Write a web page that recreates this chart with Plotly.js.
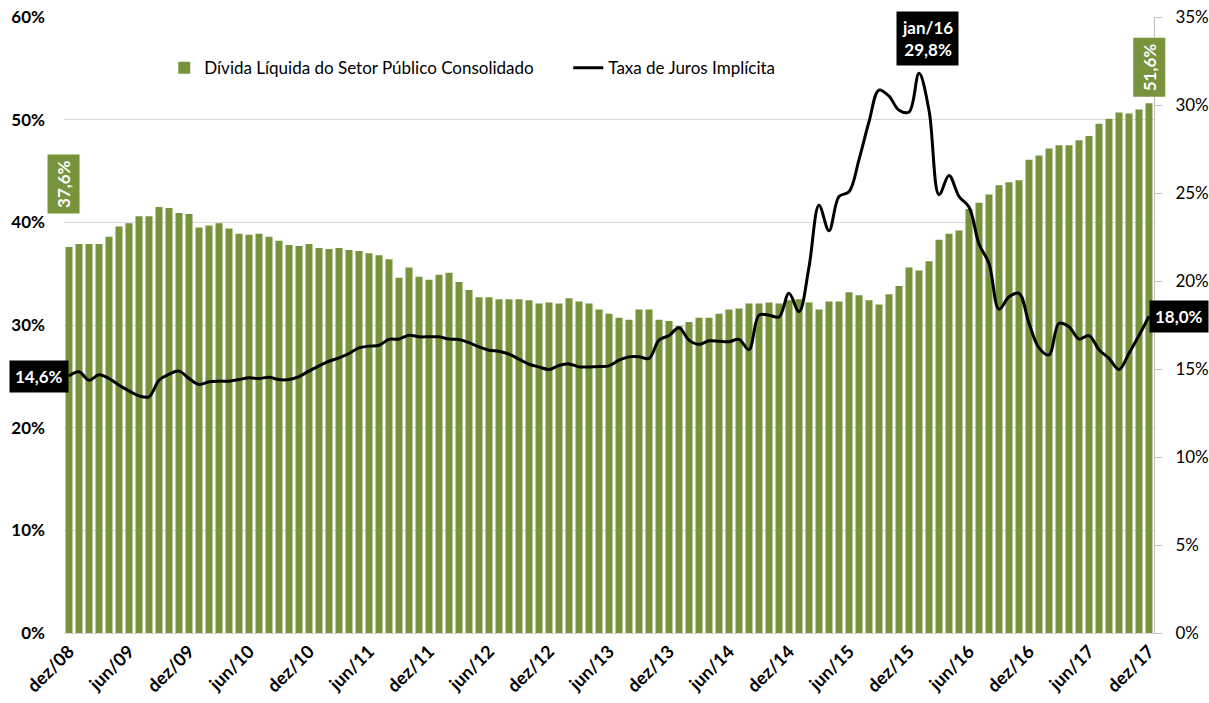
<!DOCTYPE html>
<html>
<head>
<meta charset="utf-8">
<script src="https://cdn.plot.ly/plotly-3.0.1.min.js"></script>
<style>
html,body{margin:0;padding:0;background:#fff;}
#chart{width:1209px;height:703px;}
</style>
</head>
<body>
<div id="chart"></div>
<script>
const months = [
 "dez/08",
 "jan/09","fev/09","mar/09","abr/09","mai/09","jun/09","jul/09","ago/09","set/09","out/09","nov/09","dez/09",
 "jan/10","fev/10","mar/10","abr/10","mai/10","jun/10","jul/10","ago/10","set/10","out/10","nov/10","dez/10",
 "jan/11","fev/11","mar/11","abr/11","mai/11","jun/11","jul/11","ago/11","set/11","out/11","nov/11","dez/11",
 "jan/12","fev/12","mar/12","abr/12","mai/12","jun/12","jul/12","ago/12","set/12","out/12","nov/12","dez/12",
 "jan/13","fev/13","mar/13","abr/13","mai/13","jun/13","jul/13","ago/13","set/13","out/13","nov/13","dez/13",
 "jan/14","fev/14","mar/14","abr/14","mai/14","jun/14","jul/14","ago/14","set/14","out/14","nov/14","dez/14",
 "jan/15","fev/15","mar/15","abr/15","mai/15","jun/15","jul/15","ago/15","set/15","out/15","nov/15","dez/15",
 "jan/16","fev/16","mar/16","abr/16","mai/16","jun/16","jul/16","ago/16","set/16","out/16","nov/16","dez/16",
 "jan/17","fev/17","mar/17","abr/17","mai/17","jun/17","jul/17","ago/17","set/17","out/17","nov/17","dez/17"
];

// Dívida Líquida do Setor Público Consolidado (% PIB) - eixo esquerdo
const dividaLiquida = [
 37.6, 37.9, 37.9, 37.9, 38.6, 39.6, 39.9, 40.6, 40.6, 41.5, 41.4, 40.9, 40.8,
 39.5, 39.7, 39.9, 39.4, 38.9, 38.8, 38.9, 38.6, 38.2, 37.8, 37.7, 37.9,
 37.5, 37.4, 37.5, 37.3, 37.2, 37.0, 36.8, 36.4, 34.6, 35.6, 34.7, 34.4,
 34.9, 35.1, 34.2, 33.4, 32.7, 32.7, 32.5, 32.5, 32.5, 32.4, 32.1, 32.2,
 32.1, 32.6, 32.3, 32.1, 31.5, 31.1, 30.7, 30.5, 31.5, 31.5, 30.5, 30.4,
 29.9, 30.3, 30.7, 30.7, 31.1, 31.5, 31.6, 32.1, 32.1, 32.2, 32.1, 32.4,
 32.5, 32.2, 31.5, 32.3, 32.3, 33.2, 32.9, 32.4, 32.0, 33.0, 33.8, 35.6,
 35.3, 36.2, 38.3, 38.9, 39.2, 41.3, 41.9, 42.7, 43.6, 43.9, 44.1, 46.1,
 46.5, 47.2, 47.5, 47.5, 48.0, 48.4, 49.6, 50.1, 50.7, 50.6, 51.0, 51.6
];

// Taxa de Juros Implícita (%) - eixo direito
const taxaJuros = [
 14.6, 14.84, 14.36, 14.67, 14.46, 14.08, 13.76, 13.47, 13.42, 14.36, 14.7, 14.88, 14.46,
 14.12, 14.27, 14.31, 14.31, 14.4, 14.5, 14.46, 14.53, 14.4, 14.4, 14.57, 14.88,
 15.18, 15.44, 15.63, 15.88, 16.2, 16.3, 16.35, 16.68, 16.7, 16.92, 16.83, 16.83,
 16.83, 16.7, 16.68, 16.5, 16.26, 16.07, 16.01, 15.84, 15.56, 15.27, 15.12, 14.97,
 15.2, 15.29, 15.12, 15.12, 15.14, 15.18, 15.5, 15.69, 15.7, 15.6, 16.64, 16.9,
 17.34, 16.64, 16.4, 16.6, 16.58, 16.55, 16.68, 16.1, 18.06, 18.06, 17.96, 19.3,
 18.25, 20.8, 24.3, 22.85, 24.8, 25.07, 26.9, 29.05, 30.85, 30.5, 29.7, 29.6,
 31.8, 29.7, 24.9, 26.0, 24.8, 24.2, 22.1, 21.0, 18.4, 19.1, 19.3, 17.6,
 16.2, 15.8, 17.6, 17.4, 16.7, 16.9, 16.1, 15.6, 14.97, 15.9, 16.9, 18.0
];

const tickLabels = ["dez/08","jun/09","dez/09","jun/10","dez/10","jun/11","dez/11","jun/12","dez/12",
 "jun/13","dez/13","jun/14","dez/14","jun/15","dez/15","jun/16","dez/16","jun/17","dez/17"];

const labelFirstDebt = "37,6%";
const labelLastDebt = "51,6%";
const labelFirstRate = "14,6%";
const labelLastRate = "18,0%";
const labelPeak = "jan/16<br>29,8%";
const peakMonth = "jan/16";

const green = "#77933C";
const FONT = "Lato, 'Open Sans', sans-serif";

const traces = [
 {
  type: "bar", name: "Dívida Líquida do Setor Público Consolidado",
  x: months, y: dividaLiquida, marker: {color: green}, yaxis: "y", hoverinfo: "skip"
 },
 {
  type: "scatter", mode: "lines", name: "Taxa de Juros Implícita",
  x: months, y: taxaJuros, yaxis: "y2",
  line: {color: "#000", width: 3, shape: "spline", smoothing: 1}, hoverinfo: "skip"
 }
];

const n = months.length;
const annotations = [
 {x: months[0], y: dividaLiquida[0], xref: "x", yref: "y", text: labelFirstDebt, textangle: -90,
  showarrow: false, xanchor: "center", yanchor: "middle", yshift: 63, xshift: -5,
  bgcolor: green, font: {family: FONT, size: 17, color: "#fff", weight: "bold"}, borderpad: 5},
 {x: months[n-1], y: dividaLiquida[n-1], xref: "x", yref: "y", text: labelLastDebt, textangle: -90,
  showarrow: false, xanchor: "center", yanchor: "middle", yshift: 36, xshift: 0,
  bgcolor: green, font: {family: FONT, size: 17, color: "#fff", weight: "bold"}, borderpad: 5},
 {x: months[0], y: taxaJuros[0], xref: "x", yref: "y2", text: labelFirstRate,
  showarrow: false, xanchor: "right", yanchor: "middle", xshift: 0,
  bgcolor: "#000", font: {family: FONT, size: 17, color: "#fff", weight: "bold"}, borderpad: 5},
 {x: months[n-1], y: taxaJuros[n-1], xref: "x", yref: "y2", text: labelLastRate,
  showarrow: false, xanchor: "left", yanchor: "middle", xshift: 0,
  bgcolor: "#000", font: {family: FONT, size: 17, color: "#fff", weight: "bold"}, borderpad: 5},
 {x: peakMonth, y: taxaJuros[months.indexOf(peakMonth)], xref: "x", yref: "y2", text: labelPeak,
  showarrow: false, xanchor: "center", yanchor: "bottom", xshift: 8, yshift: 7,
  bgcolor: "#000", font: {family: FONT, size: 17, color: "#fff", weight: "bold"}, borderpad: 5}
];

const layout = {
 width: 1209, height: 703,
 margin: {l: 64, r: 55, t: 17, b: 70},
 paper_bgcolor: "#fff", plot_bgcolor: "#fff",
 font: {family: FONT, color: "#000"},
 bargap: 0.3,
 showlegend: true,
 legend: {orientation: "h", x: 0.092, xanchor: "left", y: 0.917, yanchor: "middle",
  font: {family: FONT, size: 17, color: "#000"}, entrywidth: 359, bgcolor: "rgba(0,0,0,0)"},
 xaxis: {
  type: "category", range: [-0.5, n - 0.5], tickmode: "array", tickvals: tickLabels, ticktext: tickLabels,
  tickangle: -45, tickfont: {family: FONT, size: 18, weight: "bold", color: "#000"},
  showgrid: false, showline: true, linecolor: "#d9d9d9", linewidth: 1, ticks: "", fixedrange: true
 },
 yaxis: {
  range: [0, 60], dtick: 10, ticksuffix: "%", showgrid: true, gridcolor: "#d9d9d9", gridwidth: 1,
  zeroline: false, showline: false, tickfont: {family: FONT, size: 17, weight: "bold", color: "#000"},
  ticklabelstandoff: 18, fixedrange: true
 },
 yaxis2: {
  overlaying: "y", side: "right", range: [0, 35], dtick: 5, ticksuffix: "%", showgrid: false,
  zeroline: false, showline: true, linecolor: "#bfbfbf", linewidth: 1, ticks: "outside", ticklen: 7,
  tickcolor: "#bfbfbf", tickfont: {family: FONT, size: 17, color: "#000"}, ticklabelstandoff: 10, fixedrange: true
 },
 annotations: annotations
};

Plotly.newPlot("chart", traces, layout, {displayModeBar: false, staticPlot: true});
</script>
</body>
</html>
